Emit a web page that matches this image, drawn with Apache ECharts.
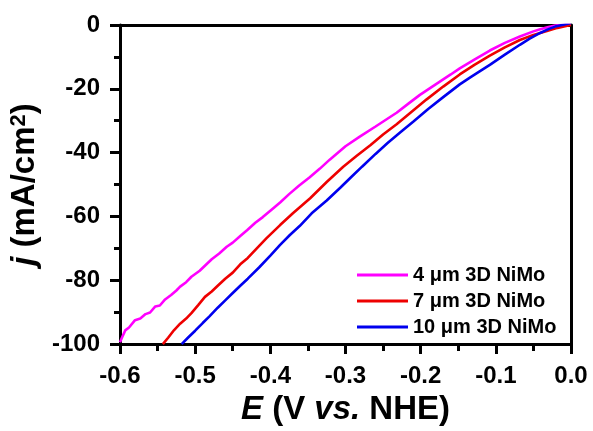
<!DOCTYPE html>
<html>
<head>
<meta charset="utf-8">
<script src="https://cdn.jsdelivr.net/npm/echarts@6/dist/echarts.min.js"></script>
<style>
html,body{margin:0;padding:0;background:#fff;}
#chart{width:593px;height:431px;}
</style>
</head>
<body>
<div id="chart"></div>
<script>
// Series names
var seriesNames = ['4 \u03bcm 3D NiMo', '7 \u03bcm 3D NiMo', '10 \u03bcm 3D NiMo'];

// 4 um 3D NiMo
var magE = [-0.600,-0.597,-0.593,-0.588,-0.580,-0.573,-0.566,-0.560,-0.553,-0.547,-0.540,-0.532,-0.525,-0.520,-0.512,-0.505,-0.494,-0.486,-0.478,-0.468,-0.458,-0.450,-0.440,-0.431,-0.420,-0.410,-0.398,-0.387,-0.375,-0.362,-0.348,-0.334,-0.321,-0.300,-0.281,-0.260,-0.232,-0.215,-0.201,-0.180,-0.160,-0.148,-0.128,-0.108,-0.088,-0.068,-0.050,-0.041,-0.030,-0.021,-0.010,0.000];
var magJ = [-99.4,-97.8,-95.7,-94.8,-92.5,-92.0,-90.6,-90.1,-88.2,-87.9,-86.0,-84.6,-83.2,-82.0,-80.6,-78.9,-77.0,-75.2,-73.4,-71.6,-69.5,-68.2,-66.1,-64.3,-62.0,-60.2,-57.8,-55.6,-53.0,-50.4,-47.8,-45.0,-42.2,-38.0,-35.0,-31.8,-27.5,-24.4,-21.9,-18.6,-15.5,-13.6,-10.8,-8.0,-5.6,-3.6,-2.0,-1.3,-0.6,-0.2,0.1,0.3];

// 7 um 3D NiMo
var redE = [-0.543,-0.536,-0.528,-0.520,-0.512,-0.505,-0.496,-0.487,-0.478,-0.470,-0.460,-0.450,-0.440,-0.430,-0.418,-0.405,-0.387,-0.370,-0.347,-0.325,-0.303,-0.285,-0.267,-0.250,-0.232,-0.212,-0.192,-0.170,-0.148,-0.128,-0.108,-0.088,-0.068,-0.050,-0.032,-0.018,-0.005,0.000];
var redJ = [-100.0,-98.0,-95.6,-93.6,-92.0,-90.3,-87.8,-85.2,-83.5,-81.7,-79.5,-77.6,-75.0,-73.0,-70.0,-66.8,-62.7,-59.0,-54.3,-49.2,-44.4,-41.0,-37.7,-34.3,-31.1,-27.2,-23.3,-19.3,-15.5,-12.4,-9.6,-7.0,-4.7,-3.1,-1.9,-0.9,-0.2,0.0];

// 10 um 3D NiMo
var bluE = [-0.518,-0.510,-0.500,-0.490,-0.481,-0.470,-0.460,-0.450,-0.440,-0.430,-0.415,-0.400,-0.387,-0.374,-0.361,-0.345,-0.325,-0.307,-0.293,-0.278,-0.260,-0.244,-0.227,-0.210,-0.190,-0.170,-0.148,-0.134,-0.120,-0.108,-0.088,-0.068,-0.055,-0.041,-0.030,-0.021,-0.010,0.000];
var bluJ = [-100.0,-98.1,-95.8,-93.4,-91.3,-88.6,-86.3,-84.0,-81.7,-79.5,-76.0,-72.3,-68.9,-65.8,-63.0,-59.0,-55.0,-51.0,-47.8,-44.4,-40.4,-37.0,-33.6,-30.3,-26.3,-22.6,-18.6,-16.4,-14.3,-12.5,-9.3,-6.2,-4.3,-2.5,-1.3,-0.5,0.1,0.6];

var colors = ['#ff00ff', '#ee0000', '#0000ee'];

function zip(a, b) { return a.map(function (v, i) { return [v, b[i]]; }); }

var FONT = 'Liberation Sans, Arial, sans-serif';
var chart = echarts.init(document.getElementById('chart'), null, {renderer: 'canvas'});

var axisLineStyle = {color: '#000', width: 3};

chart.setOption({
  animation: false,
  backgroundColor: '#fff',
  grid: {left: 120, right: 22, top: 25, bottom: 84},
  legend: {
    orient: 'vertical',
    left: 357,
    top: 265,
    padding: 0,
    icon: 'rect',
    itemWidth: 51,
    itemHeight: 3,
    itemGap: 6,
    data: seriesNames,
    textStyle: {fontSize: 20, fontWeight: 'bold', color: '#000', fontFamily: FONT}
  },
  xAxis: [{
    type: 'value', min: -0.6, max: 0, interval: 0.1, position: 'bottom',
    axisLine: {show: true, onZero: false, lineStyle: axisLineStyle},
    axisTick: {show: true, inside: false, length: 10, lineStyle: {color: '#000', width: 3}},
    minorTick: {show: true, splitNumber: 2, length: 7, lineStyle: {color: '#000', width: 3}},
    splitLine: {show: false},
    axisLabel: {show: true, margin: 20, fontSize: 24, fontWeight: 'bold', color: '#000', fontFamily: FONT,
      showMinLabel: true, showMaxLabel: true,
      formatter: function (v) { return v.toFixed(1); }},
    name: '{i|E} (V {i|vs.} NHE)',
    nameLocation: 'middle',
    nameGap: 43,
    nameTextStyle: {fontSize: 33, fontWeight: 'bold', color: '#000', fontFamily: FONT,
      rich: {i: {fontSize: 33, fontWeight: 'bold', fontStyle: 'italic', color: '#000', fontFamily: FONT}}}
  }, {
    type: 'value', min: -0.6, max: 0, position: 'top',
    axisLine: {show: true, onZero: false, lineStyle: axisLineStyle},
    axisTick: {show: false}, axisLabel: {show: false}, splitLine: {show: false}
  }],
  yAxis: [{
    type: 'value', min: -100, max: 0, interval: 20, position: 'left',
    axisLine: {show: true, onZero: false, lineStyle: axisLineStyle},
    axisTick: {show: true, inside: false, length: 10, lineStyle: {color: '#000', width: 3}},
    minorTick: {show: true, splitNumber: 2, length: 6, lineStyle: {color: '#000', width: 3}},
    splitLine: {show: false},
    axisLabel: {show: true, margin: 20, fontSize: 24, fontWeight: 'bold', color: '#000', fontFamily: FONT,
      showMinLabel: true, showMaxLabel: true},
    name: '{i|j} (mA/cm{sup|2})',
    nameLocation: 'middle',
    nameGap: 68,
    nameTextStyle: {fontSize: 33, fontWeight: 'bold', color: '#000', fontFamily: FONT,
      rich: {
        i: {fontSize: 33, fontWeight: 'bold', fontStyle: 'italic', color: '#000', fontFamily: FONT},
        sup: {fontSize: 22, fontWeight: 'bold', color: '#000', fontFamily: FONT, verticalAlign: 'top'}
      }}
  }, {
    type: 'value', min: -100, max: 0, position: 'right',
    axisLine: {show: true, onZero: false, lineStyle: axisLineStyle},
    axisTick: {show: false}, axisLabel: {show: false}, splitLine: {show: false}
  }],
  series: [
    {name: seriesNames[0], type: 'line', data: zip(magE, magJ), symbol: 'none', showSymbol: false, clip: true,
      color: colors[0], lineStyle: {color: colors[0], width: 2.6}},
    {name: seriesNames[1], type: 'line', data: zip(redE, redJ), symbol: 'none', showSymbol: false, clip: true,
      color: colors[1], lineStyle: {color: colors[1], width: 2.6}},
    {name: seriesNames[2], type: 'line', data: zip(bluE, bluJ), symbol: 'none', showSymbol: false, clip: true,
      color: colors[2], lineStyle: {color: colors[2], width: 2.6}}
  ]
});
</script>
</body>
</html>
